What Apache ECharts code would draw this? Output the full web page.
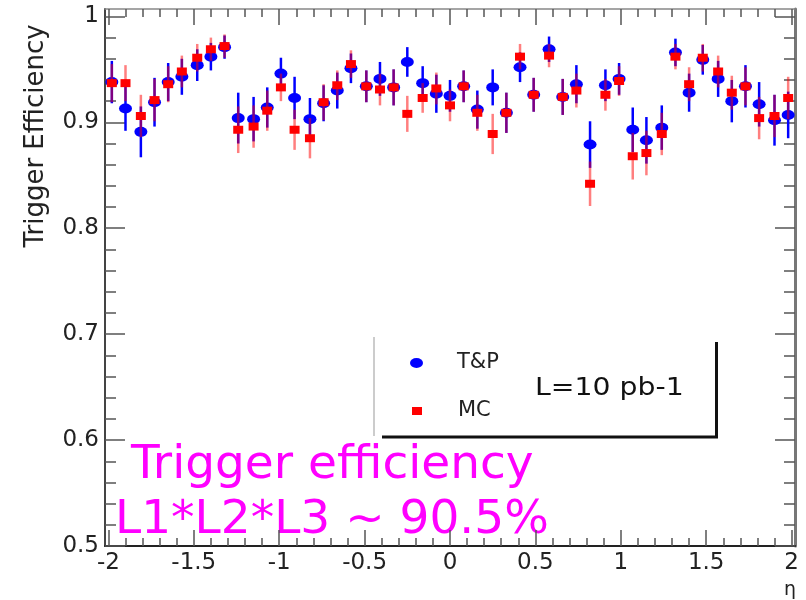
<!DOCTYPE html>
<html>
<head>
<meta charset="utf-8">
<title>Trigger Efficiency</title>
<script src="https://cdn.jsdelivr.net/npm/echarts@6/dist/echarts.min.js"></script>
<style>
  html, body { margin: 0; padding: 0; background: #fff; }
  #chart { width: 806px; height: 600px; }
</style>
</head>
<body>
<div id="chart"></div>
<script>
// eta bin centres
var eta = [-1.98, -1.90, -1.81, -1.73, -1.65, -1.57, -1.48, -1.40, -1.32, -1.24,
  -1.15, -1.07, -0.99, -0.91, -0.82, -0.74, -0.66, -0.58, -0.49, -0.41,
  -0.33, -0.25, -0.16, -0.08, 0.00, 0.08, 0.16, 0.25, 0.33, 0.41,
  0.49, 0.58, 0.66, 0.74, 0.82, 0.91, 0.99, 1.07, 1.15, 1.24,
  1.32, 1.40, 1.48, 1.57, 1.65, 1.73, 1.81, 1.90, 1.98];

// tag & probe
var tpEff = [0.938, 0.913, 0.891, 0.919, 0.938, 0.943, 0.954, 0.962, 0.971, 0.904,
  0.903, 0.914, 0.946, 0.923, 0.903, 0.918, 0.930, 0.951, 0.934, 0.941,
  0.933, 0.957, 0.937, 0.927, 0.925, 0.934, 0.912, 0.933, 0.909, 0.952,
  0.926, 0.969, 0.924, 0.936, 0.879, 0.935, 0.941, 0.893, 0.883, 0.895,
  0.966, 0.928, 0.959, 0.941, 0.920, 0.934, 0.917, 0.902, 0.907];
var tpErr = [0.020, 0.021, 0.024, 0.023, 0.018, 0.017, 0.015, 0.013, 0.011, 0.024,
  0.021, 0.019, 0.015, 0.020, 0.020, 0.017, 0.017, 0.014, 0.015, 0.016,
  0.017, 0.014, 0.016, 0.018, 0.015, 0.015, 0.018, 0.017, 0.019, 0.014,
  0.016, 0.012, 0.017, 0.018, 0.022, 0.015, 0.015, 0.021, 0.022, 0.021,
  0.013, 0.018, 0.014, 0.017, 0.020, 0.020, 0.021, 0.024, 0.022];

// monte carlo
var mcEff = [0.937, 0.937, 0.906, 0.921, 0.936, 0.948, 0.961, 0.969, 0.972, 0.893,
  0.896, 0.911, 0.933, 0.893, 0.885, 0.919, 0.935, 0.955, 0.934, 0.931,
  0.933, 0.908, 0.923, 0.932, 0.916, 0.934, 0.909, 0.889, 0.909, 0.962,
  0.926, 0.963, 0.924, 0.930, 0.842, 0.926, 0.939, 0.868, 0.871, 0.889,
  0.962, 0.936, 0.961, 0.948, 0.928, 0.934, 0.904, 0.906, 0.923];
var mcErr = [0.018, 0.017, 0.020, 0.020, 0.017, 0.015, 0.013, 0.011, 0.011, 0.022,
  0.020, 0.019, 0.013, 0.019, 0.019, 0.017, 0.014, 0.013, 0.015, 0.015,
  0.017, 0.017, 0.014, 0.015, 0.015, 0.015, 0.017, 0.019, 0.019, 0.012,
  0.016, 0.011, 0.017, 0.016, 0.021, 0.015, 0.014, 0.022, 0.021, 0.020,
  0.012, 0.016, 0.013, 0.015, 0.016, 0.018, 0.020, 0.020, 0.020];

// ticks
var xMajorTicks = [-2, -1.5, -1, -0.5, 0, 0.5, 1, 1.5, 2];
var yMajorTicks = [0.5, 0.6, 0.7, 0.8, 0.9, 1];
var xMinorTicks = [];
var yMinorTicks = [];
for (var i = 0; i <= 40; i++) xMinorTicks.push(+(-2 + i * 0.1).toFixed(2));
for (var j = 0; j <= 25; j++) yMinorTicks.push(+(0.5 + j * 0.02).toFixed(2));

var FONT = "DejaVu Sans";
var ELLIPSE = "path://M0,5 A5,5 0 1,0 10,5 A5,5 0 1,0 0,5 Z";

function pairs(xs, ys) {
  return xs.map(function (x, k) { return [x, ys[k]]; });
}
function triples(xs, ys, es) {
  return xs.map(function (x, k) { return [x, ys[k], es[k]]; });
}
function errorBar(color, opacity) {
  return function (params, api) {
    var x = api.value(0), y = api.value(1), e = api.value(2);
    var lo = api.coord([x, y - e]);
    var hi = api.coord([x, y + e]);
    return {
      type: "line",
      shape: { x1: lo[0], y1: lo[1], x2: hi[0], y2: hi[1] },
      style: { stroke: color, lineWidth: 2.5, opacity: opacity }
    };
  };
}

function xAx(pos, ticks, len, line, label) {
  return {
    type: "value", position: pos, min: -2.02, max: 2.02,
    axisLine: { show: !!line, onZero: false, lineStyle: line || {} },
    axisTick: { show: true, inside: true, length: len, customValues: ticks,
      lineStyle: { color: "#555", width: 1.5 } },
    axisLabel: label ? { show: true, customValues: ticks, margin: 6,
      fontFamily: FONT, fontSize: 23, color: "#222" } : { show: false },
    splitLine: { show: false }
  };
}
function yAx(pos, ticks, len, line, label) {
  return {
    type: "value", position: pos, min: 0.5, max: 1.007,
    axisLine: { show: !!line, onZero: false, lineStyle: line || {} },
    axisTick: { show: true, inside: true, length: len, customValues: ticks,
      lineStyle: { color: "#555", width: 1.5 } },
    axisLabel: label ? { show: true, customValues: ticks, margin: 6,
      fontFamily: FONT, fontSize: 23, color: "#222" } : { show: false },
    splitLine: { show: false }
  };
}

var option = {
  animation: false,
  backgroundColor: "#fff",
  grid: { left: 105, right: 11, top: 9, bottom: 54 },
  xAxis: [
    xAx("bottom", xMajorTicks, 16, { color: "#222", width: 2 }, true),
    xAx("bottom", xMinorTicks, 8, null, false),
    xAx("top", xMajorTicks, 16, { color: "#888", width: 1.5 }, false),
    xAx("top", xMinorTicks, 8, null, false)
  ],
  yAxis: [
    yAx("left", yMajorTicks, 20, { color: "#444", width: 2 }, true),
    yAx("left", yMinorTicks, 11, null, false),
    yAx("right", yMajorTicks, 20, { color: "#777", width: 3 }, false),
    yAx("right", yMinorTicks, 11, null, false)
  ],
  legend: [
    {
      data: [{ name: "T&P", icon: ELLIPSE }],
      left: 410, top: 351, padding: 0, itemWidth: 13, itemHeight: 10,
      symbolKeepAspect: false, selectedMode: false,
      textStyle: { fontFamily: FONT, fontSize: 21, color: "#222", lineHeight: 24,
        padding: [0, 0, 0, 29] }
    },
    {
      data: [{ name: "MC", icon: "rect" }],
      left: 412, top: 399, padding: 0, itemWidth: 10, itemHeight: 8,
      selectedMode: false,
      textStyle: { fontFamily: FONT, fontSize: 21, color: "#222", lineHeight: 24,
        padding: [0, 0, 0, 31] }
    }
  ],
  graphic: [
    // legend box (TPave with shadow)
    { type: "line", shape: { x1: 374, y1: 337, x2: 374, y2: 436 },
      style: { stroke: "#bbb", lineWidth: 1.5 } },
    { type: "line", shape: { x1: 382, y1: 437, x2: 718, y2: 437 },
      style: { stroke: "#111", lineWidth: 3 } },
    { type: "line", shape: { x1: 716.5, y1: 342, x2: 716.5, y2: 438 },
      style: { stroke: "#111", lineWidth: 3 } },
    { type: "text", x: 535, y: 389, scaleX: 1.18,
      style: { text: "L=10 pb-1", font: "24px " + FONT, fill: "#111",
        verticalAlign: "middle" } },
    // axis titles
    { type: "text", x: 36, y: 136, rotation: Math.PI / 2,
      style: { text: "Trigger Efficiency", font: "26px " + FONT, fill: "#222",
        align: "center", verticalAlign: "middle" } },
    { type: "text", x: 790, y: 590,
      style: { text: "η", font: "19px " + FONT, fill: "#222",
        align: "center", verticalAlign: "middle" } },
    // annotation
    { type: "text", x: 131, y: 466,
      style: { text: "Trigger efficiency", font: "47px " + FONT, fill: "#ff00ff",
        verticalAlign: "middle" } },
    { type: "text", x: 115, y: 521,
      style: { text: "L1*L2*L3 ~ 90.5%", font: "47px " + FONT, fill: "#ff00ff",
        verticalAlign: "middle" } }
  ],
  series: [
    {
      name: "T&P err", type: "custom", xAxisIndex: 0, yAxisIndex: 0,
      renderItem: errorBar("#0000ff", 1), data: triples(eta, tpEff, tpErr), z: 2
    },
    {
      name: "T&P", type: "scatter", xAxisIndex: 0, yAxisIndex: 0,
      symbol: ELLIPSE, symbolSize: [13, 10], symbolKeepAspect: false,
      itemStyle: { color: "#0000ff", opacity: 1 },
      data: pairs(eta, tpEff), z: 3
    },
    {
      name: "MC err", type: "custom", xAxisIndex: 0, yAxisIndex: 0,
      renderItem: errorBar("#ff0000", 0.5), data: triples(eta, mcEff, mcErr), z: 4
    },
    {
      name: "MC", type: "scatter", xAxisIndex: 0, yAxisIndex: 0,
      symbol: "rect", symbolSize: [10, 8],
      itemStyle: { color: "#ff0000", opacity: 1 },
      data: pairs(eta, mcEff), z: 5
    }
  ]
};

var myChart = echarts.init(document.getElementById("chart"));
myChart.setOption(option);
</script>
</body>
</html>
